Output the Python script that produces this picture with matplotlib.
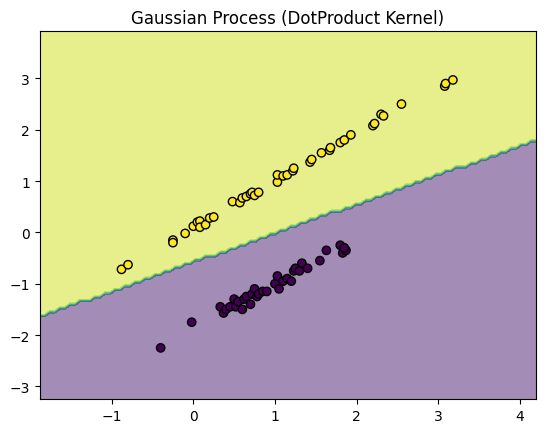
import numpy as np
import matplotlib
matplotlib.use("Agg")
import matplotlib.pyplot as plt

yellow_x = [-0.88,-0.8,-0.25,-0.25,-0.1,0.0,0.05,0.08,0.08,0.15,0.2,0.25,0.48,0.57,0.6,0.65,0.7,0.72,0.75,0.8,1.03,1.03,1.1,1.15,1.22,1.23,1.43,1.45,1.57,1.67,1.68,1.8,1.85,1.93,2.2,2.22,2.3,2.33,2.55,3.08,3.09,3.18]
yellow_y = [-0.72,-0.63,-0.15,-0.2,-0.02,0.12,0.2,0.22,0.1,0.15,0.28,0.3,0.6,0.58,0.67,0.7,0.75,0.78,0.72,0.78,0.98,1.12,1.1,1.12,1.2,1.25,1.37,1.42,1.55,1.6,1.65,1.75,1.8,1.9,2.08,2.12,2.3,2.27,2.5,2.85,2.9,2.97]
purple_x = [-0.4,-0.02,0.33,0.37,0.4,0.45,0.5,0.52,0.55,0.6,0.62,0.65,0.7,0.72,0.75,0.78,0.8,0.85,0.9,1.0,1.03,1.05,1.1,1.15,1.2,1.23,1.25,1.3,1.33,1.4,1.55,1.63,1.8,1.83,1.87,1.85]
purple_y = [-2.25,-1.75,-1.45,-1.57,-1.5,-1.45,-1.3,-1.45,-1.35,-1.5,-1.3,-1.25,-1.4,-1.2,-1.1,-1.25,-1.2,-1.15,-1.15,-1.0,-0.85,-1.1,-0.95,-0.9,-0.95,-0.75,-0.7,-0.75,-0.6,-0.7,-0.55,-0.35,-0.25,-0.4,-0.35,-0.3]

# decision boundary of the fitted classifier: y = slope*x + intercept
boundary_slope = 0.566
boundary_intercept = -0.58

xmin, xmax, ymin, ymax = -1.88, 4.2, -3.25, 3.92

fig = plt.figure(figsize=(5.46, 4.35), dpi=100)
ax = fig.add_axes([0.073, 0.080, 0.909, 0.846])
gx, gy = np.meshgrid(np.linspace(xmin, xmax, 100), np.linspace(ymin, ymax, 100))
Z = (gy > boundary_slope * gx + boundary_intercept).astype(float)
ax.contourf(gx, gy, Z, alpha=0.5, cmap="viridis")
xs = yellow_x + purple_x
ys = yellow_y + purple_y
cs = [1]*len(yellow_x) + [0]*len(purple_x)
ax.scatter(xs, ys, c=cs, cmap="viridis", edgecolors="k")
ax.set_xlim(xmin, xmax)
ax.set_ylim(ymin, ymax)
ax.set_title("Gaussian Process (DotProduct Kernel)")
fig.savefig("out.png")
